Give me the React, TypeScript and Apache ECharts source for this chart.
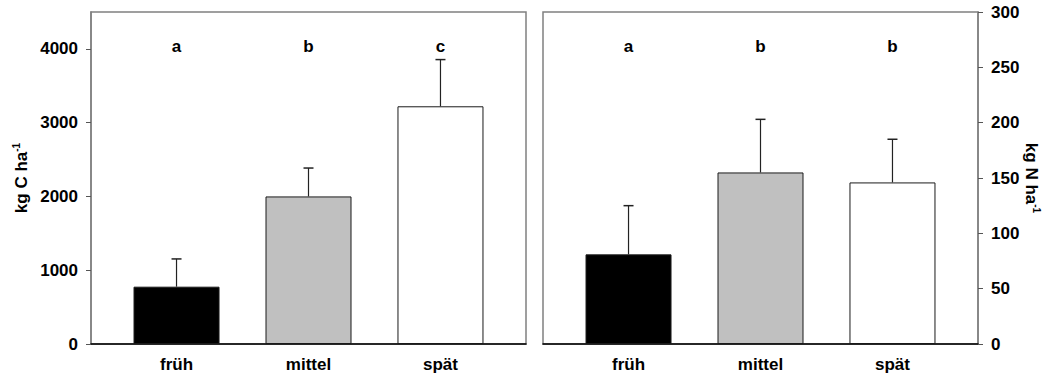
import React, { useEffect, useRef } from "react";
import * as echarts from "echarts";

const categories = ["früh", "mittel", "spät"];
const positions = [0, 1, 2];
const barColors = ["#000000", "#c0c0c0", "#ffffff"];

const carbonValues = [777, 2000, 3222];
const carbonErrors = [376, 385, 633];
const carbonLetters = ["a", "b", "c"];
const carbonTicks = [0, 1000, 2000, 3000, 4000];
const carbonLetterLevel = 4030;

const nitrogenValues = [81, 155, 146];
const nitrogenErrors = [44, 48, 39];
const nitrogenLetters = ["a", "b", "b"];
const nitrogenTicks = [0, 50, 100, 150, 200, 250, 300];
const nitrogenLetterLevel = 269;

const FONT = 'Arial, "Liberation Sans", sans-serif';

export default function App() {
  const ref = useRef<HTMLDivElement>(null);

  useEffect(() => {
    if (!ref.current) return;
    const chart = echarts.init(ref.current, null, { renderer: "svg" });

    const labelStyle = {
      fontFamily: FONT,
      fontWeight: "bold" as const,
      fontSize: 17,
      color: "#000",
    };

    const makeX = (gridIndex: number) => ({
      type: "value",
      gridIndex,
      min: -0.648,
      max: 2.648,
      axisLine: { show: true, onZero: false, lineStyle: { color: "#000", width: 1.5 } },
      axisTick: { show: false },
      splitLine: { show: false },
      axisLabel: {
        ...labelStyle,
        margin: 12,
        customValues: positions,
        formatter: (v: number) => categories[Math.round(v)] ?? "",
      },
    });

    const errorSeries = (idx: number, values: number[], errors: number[]) => ({
      type: "custom",
      xAxisIndex: idx,
      yAxisIndex: idx,
      z: 5,
      data: positions.map((p, i) => [p, values[i], errors[i]]),
      renderItem: (params: any, api: any) => {
        const x = api.value(0);
        const y = api.value(1);
        const e = api.value(2);
        const base = api.coord([x, y]);
        const top = api.coord([x, y + e]);
        return {
          type: "group",
          children: [
            {
              type: "line",
              shape: { x1: base[0], y1: base[1], x2: top[0], y2: top[1] },
              style: { stroke: "#222", lineWidth: 1.2 },
            },
            {
              type: "line",
              shape: { x1: top[0] - 5, y1: top[1], x2: top[0] + 5, y2: top[1] },
              style: { stroke: "#222", lineWidth: 1.5 },
            },
          ],
        };
      },
    });

    const barSeries = (idx: number, values: number[]) => ({
      type: "bar",
      xAxisIndex: idx,
      yAxisIndex: idx,
      barWidth: 86,
      z: 3,
      data: positions.map((p, i) => ({
        value: [p, values[i]],
        itemStyle: { color: barColors[i], borderColor: "#1a1a1a", borderWidth: 1 },
      })),
    });

    const letterSeries = (idx: number, level: number, letters: string[]) => ({
      type: "scatter",
      xAxisIndex: idx,
      yAxisIndex: idx,
      symbolSize: 1,
      itemStyle: { color: "rgba(0,0,0,0)", opacity: 1 },
      data: positions.map((p) => [p, level]),
      label: {
        show: true,
        position: "inside",
        ...labelStyle,
        opacity: 1,
        formatter: (params: any) => letters[params.dataIndex],
      },
    });

    const plain = (v: number) => String(v);

    chart.setOption({
      animation: false,
      backgroundColor: "#fff",
      grid: [
        { left: 91, top: 12, width: 435, height: 332, show: true, borderColor: "#808080", borderWidth: 1.5 },
        { left: 543, top: 12, width: 435, height: 332, show: true, borderColor: "#808080", borderWidth: 1.5 },
      ],
      xAxis: [makeX(0), makeX(1)],
      yAxis: [
        {
          type: "value",
          gridIndex: 0,
          min: 0,
          max: 4500,
          axisLine: { show: true, onZero: false, lineStyle: { color: "#808080", width: 1.5 } },
          axisTick: { show: true, inside: false, length: 5, customValues: carbonTicks, lineStyle: { color: "#555" } },
          axisLabel: { ...labelStyle, margin: 13, customValues: carbonTicks, formatter: plain },
          splitLine: { show: false },
          name: "{m|kg C ha}{s|-1}",
          nameLocation: "middle",
          nameGap: 60,
          nameTextStyle: {
            rich: {
              m: { ...labelStyle, fontSize: 17 },
              s: { ...labelStyle, fontSize: 10, verticalAlign: "top", padding: [0, 0, 10, 0] },
            },
          },
        },
        {
          type: "value",
          gridIndex: 1,
          position: "right",
          min: 0,
          max: 300,
          interval: 50,
          axisLine: { show: true, onZero: false, lineStyle: { color: "#808080", width: 1.5 } },
          axisTick: { show: true, inside: false, length: 5, lineStyle: { color: "#555" } },
          axisLabel: { ...labelStyle, margin: 13, customValues: nitrogenTicks, formatter: plain },
          splitLine: { show: false },
          name: "{m|kg N ha}{s|-1}",
          nameLocation: "middle",
          nameRotate: -90,
          nameGap: 40,
          nameTextStyle: {
            rich: {
              m: { ...labelStyle, fontSize: 17 },
              s: { ...labelStyle, fontSize: 10, verticalAlign: "top", padding: [0, 0, 10, 0] },
            },
          },
        },
      ],
      series: [
        barSeries(0, carbonValues),
        errorSeries(0, carbonValues, carbonErrors),
        letterSeries(0, carbonLetterLevel, carbonLetters),
        barSeries(1, nitrogenValues),
        errorSeries(1, nitrogenValues, nitrogenErrors),
        letterSeries(1, nitrogenLetterLevel, nitrogenLetters),
      ],
    });

    return () => chart.dispose();
  }, []);

  return (
    <div
      ref={ref}
      style={{ position: "absolute", left: 0, top: 0, width: 1045, height: 378 }}
    />
  );
}
